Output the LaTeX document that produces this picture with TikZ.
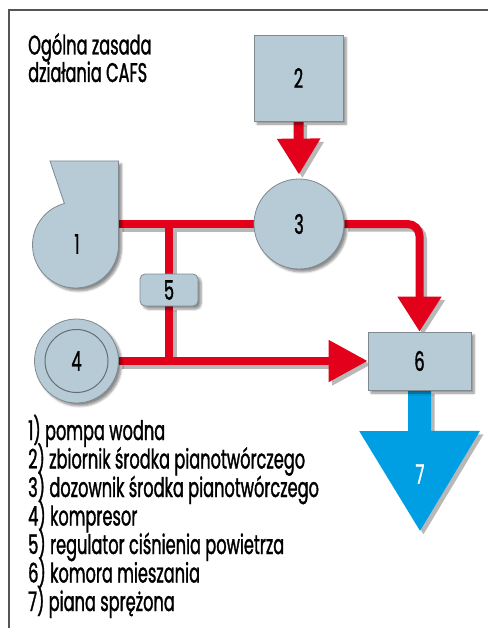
\documentclass[tikz,border=0pt]{standalone}
\usepackage{fontspec}
\setmainfont{Poppins}[FakeStretch=0.6, FakeBold=1.2]
\usetikzlibrary{arrows.meta,shadows.blur}
\definecolor{boxfill}{HTML}{B6CBD6}
\definecolor{boxdraw}{HTML}{7E8A90}
\definecolor{pipered}{HTML}{E2001A}
\definecolor{pipeblue}{HTML}{009FE3}
\definecolor{framecol}{HTML}{555555}
\definecolor{shadcol}{HTML}{B8B8B8}
\pgfdeclarelayer{shad}
\pgfdeclarelayer{bg}
\pgfsetlayers{shad,bg,main}
\tikzset{
  txt/.style={font=\fontsize{27}{32}\selectfont, inner sep=0pt},
  box/.style={fill=boxfill, draw=boxdraw, line width=0.8pt,
    blur shadow={shadow xshift=3pt, shadow yshift=-3pt, shadow blur steps=6, shadow opacity=45},
    font=\fontsize{27}{32}\selectfont, inner sep=0pt},
  pipe/.style={draw=pipered, line width=8pt},
}
\newcommand\drawpipes[2]{%
  \draw[pipe,#1,line width=10pt,-{Triangle[width=41pt,length=36pt]},shorten >=4pt] (b2.south) -- (c3.north);
  \draw[pipe,#1] (p1out) -- (c3.west);
  \draw[pipe,#1,rounded corners=12pt,-{Triangle[width=42pt,length=35pt]}] (c3.east) -| (b6.north);
  \draw[pipe,#1] (j1) -- (b5.north);
  \draw[pipe,#1] (b5.south) -- (j2);
  \draw[pipe,#1,-{Triangle[width=40pt,length=39pt]}] (c4.east) -- (b6.west);
  \draw[pipe,#2,line width=23pt,-{Triangle[width=114pt,length=101pt]}] (b6.south) -- (tip7);
}
\begin{document}
\begin{tikzpicture}[x=1pt,y=-1pt]
\useasboundingbox (0,0) rectangle (487,628);
\draw[framecol, line width=2pt] (9,629) -- (9,10.5) -- (488,10.5);

% title
\node[txt, anchor=base west] (t1) at (28,54.5) {Ogólna zasada};
\node[txt, anchor=base west] (t2) at (28,82) {działania CAFS};

% pump 1
\path[fill=boxfill, draw=boxdraw, line width=0.8pt,
  blur shadow={shadow xshift=3pt, shadow yshift=-3pt, shadow blur steps=6, shadow opacity=45}]
  (50,161) -- (118.5,161) -- (118.5,245) arc[start angle=0, end angle=255, radius=43] -- cycle;
\node[txt] (n1) at (77,244) {1};
\coordinate (p1out) at (118.5,224);

% nodes
\node[box, minimum width=89pt, minimum height=86pt] (b2) at (298.5,78) {2};
\node[box, circle, minimum size=90pt] (c3) at (299,224) {3};
\node[box, rounded corners=5pt, minimum width=58pt, minimum height=32pt] (b5) at (169,290) {5};
\node[box, circle, minimum size=84pt] (c4) at (76.5,361) {};
\draw[boxdraw!80!black, line width=1pt] (c4.center) circle[radius=31.5];
\node[txt] (n4) at (c4.center) {4};
\node[box, minimum width=103pt, minimum height=58pt] (b6) at (419.5,361) {6};

\coordinate (j1) at (169,224);
\coordinate (j2) at (169,361);
\coordinate (tip7) at (420,532);

\begin{pgfonlayer}{shad}
\begin{scope}[transform canvas={shift={(3.5pt,-3.5pt)}}]
\drawpipes{draw=shadcol}{draw=shadcol}
\end{scope}
\end{pgfonlayer}
\begin{pgfonlayer}{bg}
\drawpipes{}{draw=pipeblue}
\end{pgfonlayer}
\node[txt, white] (n7) at (420,474) {7};

% legend
\foreach \t [count=\i] in {1) pompa wodna, 2) zbiornik środka pianotwórczego,
  3) dozownik środka pianotwórczego, 4) kompresor, 5) regulator ciśnienia powietrza,
  6) komora mieszania, 7) piana sprężona}
  \node[txt, anchor=base west] (l\i) at (28,{440+28.5*(\i-1)}) {\t};
\end{tikzpicture}
\end{document}
